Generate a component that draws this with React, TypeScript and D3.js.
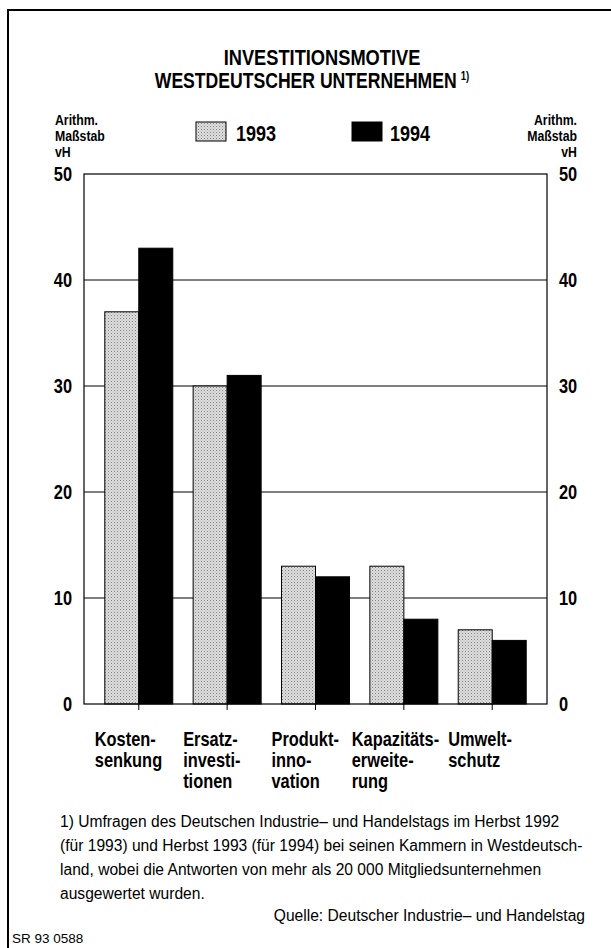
import * as d3 from "d3";

// categories and values (vH)
const categories = ["Kostensenkung", "Ersatzinvestitionen", "Produktinnovation", "Kapazitätserweiterung", "Umweltschutz"];
const categoryLines = [
  ["Kosten-", "senkung"],
  ["Ersatz-", "investi-", "tionen"],
  ["Produkt-", "inno-", "vation"],
  ["Kapazitäts-", "erweite-", "rung"],
  ["Umwelt-", "schutz"],
];
const years = ["1993", "1994"];
const values1993 = [37, 30, 13, 13, 7];
const values1994 = [43, 31, 12, 8, 6];
const yTicks = [0, 10, 20, 30, 40, 50];
const axisCaption = ["Arithm.", "Maßstab", "vH"];
const footnoteLines = [
  "1) Umfragen des Deutschen Industrie– und Handelstags im Herbst 1992",
  "(für 1993) und Herbst 1993 (für 1994) bei seinen Kammern in Westdeutsch-",
  "land, wobei die Antworten von mehr als 20 000 Mitgliedsunternehmen",
  "ausgewertet wurden.",
];
const sourceText = "Quelle: Deutscher Industrie– und Handelstag";
const codeText = "SR 93 0588";

const W = 611, H = 948;
const plot = { left: 84, right: 547, top: 174, bottom: 704 };
const sans = "'Liberation Sans', Arial, sans-serif";
const squeeze = 0.82;

// condensed look: Arial-metric bold squeezed horizontally
const NText = ({ x, y, sx = squeeze, children, ...rest }: any) => (
  <text transform={`translate(${x},${y}) scale(${sx},1)`} fontFamily={sans} fontWeight="bold" {...rest}>
    {children}
  </text>
);

// width of the widest label line, so a long label can step left of its neighbour
const ctx = document.createElement("canvas").getContext("2d");
const labelWidth = (lines: string[], size: number) => {
  if (!ctx) return 0;
  ctx.font = `bold ${size}px 'Liberation Sans', Arial, sans-serif`;
  return d3.max(lines, l => ctx.measureText(l).width)! * squeeze;
};

const App = () => {
  const x = d3.scalePoint<string>().domain(categories).range([plot.left, plot.right]).padding(0.62);
  const barW = 34;
  const x1 = d3.scaleBand<string>().domain(years).range([-barW, barW]);
  const y = d3.scaleLinear().domain([0, 50]).range([plot.bottom, plot.top]);

  const series = [
    { year: years[0], values: values1993, fill: "url(#dots)" },
    { year: years[1], values: values1994, fill: "#000" },
  ];

  const labelLeft = categories.map((c, i) => {
    const base = (x(c) as number) - 44;
    if (i === categories.length - 1) return base;
    const next = (x(categories[i + 1]) as number) - 44;
    return Math.min(base, next - labelWidth(categoryLines[i], 20) - 9);
  });

  return (
    <svg width={W} height={H} style={{ position: "absolute", left: 0, top: 0, background: "#fff" }}>
      <defs>
        <pattern id="dots" width="3" height="3" patternUnits="userSpaceOnUse">
          <rect width="3" height="3" fill="#dedede" />
          <rect x="0" y="0" width="1" height="1" fill="#808080" />
          <rect x="1.5" y="1.5" width="1" height="1" fill="#a8a8a8" />
        </pattern>
      </defs>

      {/* frame */}
      <path d={`M8,${H} V10 H${W}`} fill="none" stroke="#000" strokeWidth={2} />

      {/* title */}
      <NText x={322} y={65} fontSize={22} sx={0.83} textAnchor="middle">INVESTITIONSMOTIVE</NText>
      <NText x={312} y={88} fontSize={22} sx={0.8} textAnchor="middle">
        WESTDEUTSCHER UNTERNEHMEN<tspan fontSize={12} dy={-8} dx={5}>1)</tspan>
      </NText>

      {/* axis captions */}
      {axisCaption.map((t, i) => (
        <g key={t}>
          <NText x={55} y={125 + i * 16} fontSize={15}>{t}</NText>
          <NText x={577} y={125 + i * 16} fontSize={15} textAnchor="end">{t}</NText>
        </g>
      ))}

      {/* legend */}
      {series.map((s, i) => (
        <g key={s.year}>
          <rect x={i === 0 ? 196 : 352} y={122} width={30} height={19} fill={s.fill} stroke="#000" strokeWidth={1} />
          <NText x={i === 0 ? 236 : 390} y={141} fontSize={22}>{s.year}</NText>
        </g>
      ))}

      {/* grid */}
      {yTicks.slice(1, -1).map(t => (
        <line key={t} x1={plot.left} x2={plot.right} y1={y(t)} y2={y(t)} stroke="#000" strokeWidth={1} />
      ))}

      {/* bars */}
      {series.map(s => (
        <g key={s.year}>
          {categories.map((c, i) => (
            <rect key={c} x={(x(c) as number) + (x1(s.year) as number)} y={y(s.values[i])}
              width={x1.bandwidth()} height={y(0) - y(s.values[i])}
              fill={s.fill} stroke="#000" strokeWidth={1} />
          ))}
        </g>
      ))}

      {/* plot frame */}
      <rect x={plot.left} y={plot.top} width={plot.right - plot.left} height={plot.bottom - plot.top}
        fill="none" stroke="#000" strokeWidth={1.2} />

      {/* y tick labels both sides */}
      {yTicks.map(t => (
        <g key={t}>
          <NText x={72} y={y(t) + 7} fontSize={20} textAnchor="end">{t}</NText>
          <NText x={559} y={y(t) + 7} fontSize={20}>{t}</NText>
        </g>
      ))}

      {/* x ticks and category labels */}
      {categories.map((c, i) => (
        <g key={c}>
          <line x1={x(c)} x2={x(c)} y1={plot.bottom} y2={plot.bottom + 6} stroke="#000" />
          {categoryLines[i].map((l, j) => (
            <NText key={j} x={labelLeft[i]} y={746 + j * 21} fontSize={20}>{l}</NText>
          ))}
        </g>
      ))}

      {/* footnote */}
      <text fontFamily={sans} fontSize={15.6}>
        {footnoteLines.map((l, i) => (
          <tspan key={i} x={60} y={827 + i * 24}>{l}</tspan>
        ))}
      </text>
      <text x={585} y={921} textAnchor="end" fontFamily={sans} fontSize={15.6}>{sourceText}</text>
      <text x={12} y={943} fontFamily={sans} fontSize={13.5}>{codeText}</text>
    </svg>
  );
};

export default App;
